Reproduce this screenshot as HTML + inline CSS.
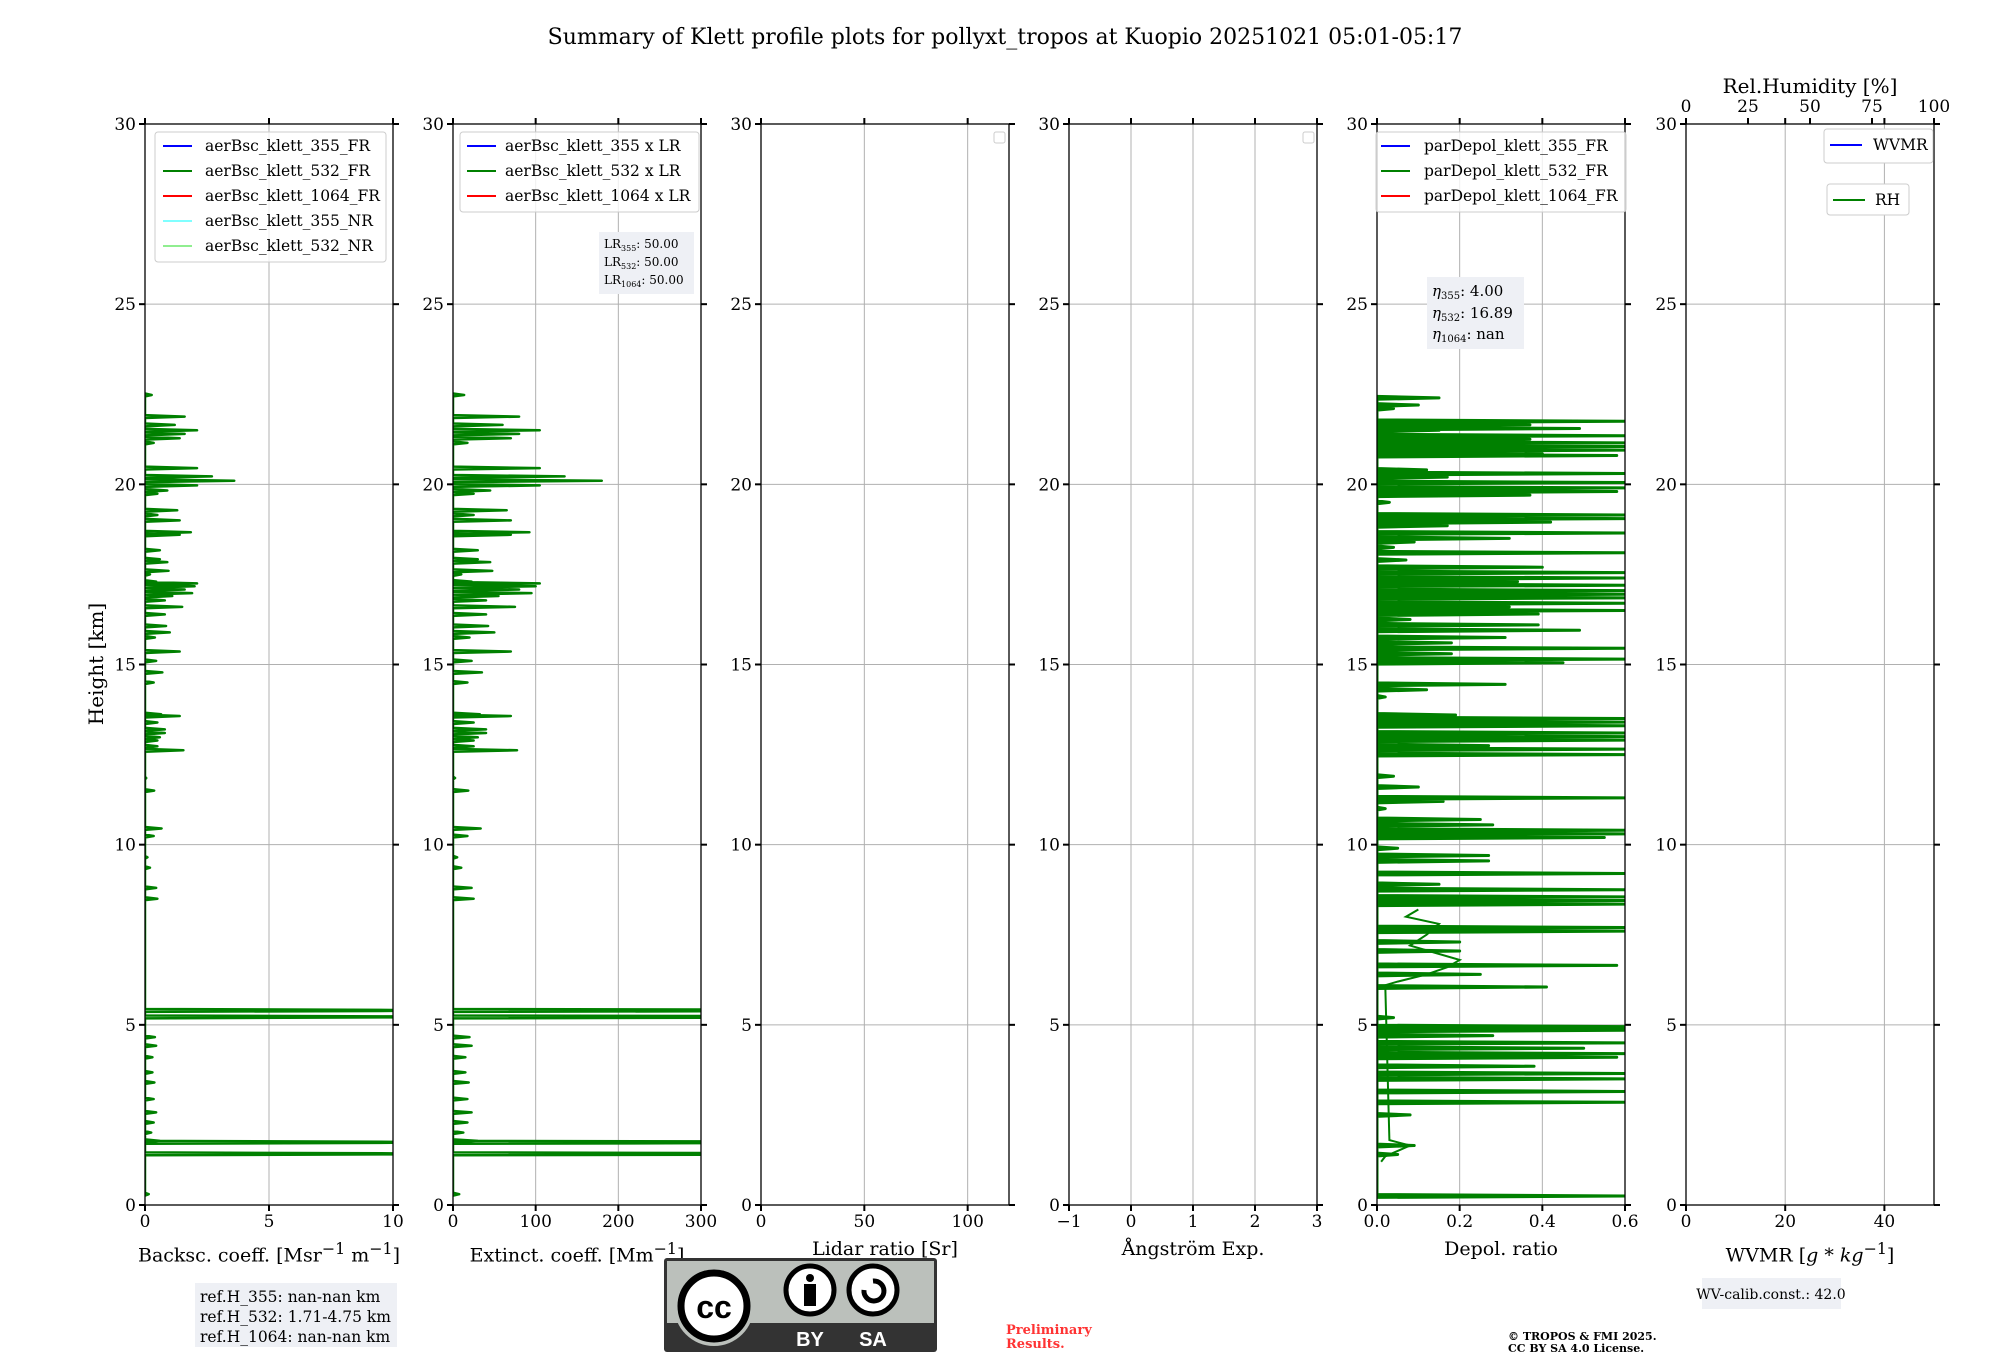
<!DOCTYPE html>
<html><head><meta charset="utf-8"><style>
html,body{margin:0;padding:0;background:#fff;}
svg{display:block;font-family:"DejaVu Serif","Liberation Serif",serif;}
</style></head><body>
<svg id="fig" width="2000" height="1360" viewBox="0 0 2000 1360" xmlns="http://www.w3.org/2000/svg">
<text x="1005" y="44" font-size="22" text-anchor="middle">Summary of Klett profile plots for pollyxt_tropos at Kuopio 20251021 05:01-05:17</text>
<text x="0" y="0" font-size="20" text-anchor="middle" transform="translate(103,664) rotate(-90)">Height [km]</text>
<g id="panels"></g>
<g>
<rect x="155" y="132" width="231" height="130" rx="3" fill="#fff" fill-opacity="0.8" stroke="#ccc"/>
<line x1="163" y1="146" x2="192" y2="146" stroke="#0000ff" stroke-width="2"/><text x="205" y="151" font-size="15.5">aerBsc_klett_355_FR</text>
<line x1="163" y1="171" x2="192" y2="171" stroke="#008000" stroke-width="2"/><text x="205" y="176" font-size="15.5">aerBsc_klett_532_FR</text>
<line x1="163" y1="196" x2="192" y2="196" stroke="#ff0000" stroke-width="2"/><text x="205" y="201" font-size="15.5">aerBsc_klett_1064_FR</text>
<line x1="163" y1="221" x2="192" y2="221" stroke="#80ffff" stroke-width="2"/><text x="205" y="226" font-size="15.5">aerBsc_klett_355_NR</text>
<line x1="163" y1="246" x2="192" y2="246" stroke="#90ee90" stroke-width="2"/><text x="205" y="251" font-size="15.5">aerBsc_klett_532_NR</text>
</g>
<g>
<rect x="460" y="132" width="239" height="80" rx="3" fill="#fff" fill-opacity="0.8" stroke="#ccc"/>
<line x1="467" y1="146" x2="496" y2="146" stroke="#0000ff" stroke-width="2"/><text x="505" y="151" font-size="15.5">aerBsc_klett_355 x LR</text>
<line x1="467" y1="171" x2="496" y2="171" stroke="#008000" stroke-width="2"/><text x="505" y="176" font-size="15.5">aerBsc_klett_532 x LR</text>
<line x1="467" y1="196" x2="496" y2="196" stroke="#ff0000" stroke-width="2"/><text x="505" y="201" font-size="15.5">aerBsc_klett_1064 x LR</text>
</g>
<g>
<rect x="599" y="232" width="95" height="62" fill="#eef0f5"/>
<text x="604" y="248" font-size="12">LR<tspan font-size="8" dy="3">355</tspan><tspan dy="-3">: 50.00</tspan></text>
<text x="604" y="266" font-size="12">LR<tspan font-size="8" dy="3">532</tspan><tspan dy="-3">: 50.00</tspan></text>
<text x="604" y="284" font-size="12">LR<tspan font-size="8" dy="3">1064</tspan><tspan dy="-3">: 50.00</tspan></text>
</g>
<rect x="994" y="132" width="11" height="11" rx="2" fill="#fff" stroke="#ccc"/>
<rect x="1303" y="132" width="11" height="11" rx="2" fill="#fff" stroke="#ccc"/>
<g>
<rect x="1376" y="132" width="250" height="80" rx="3" fill="#fff" fill-opacity="0.8" stroke="#ccc"/>
<line x1="1381" y1="146" x2="1410" y2="146" stroke="#0000ff" stroke-width="2"/><text x="1424" y="151" font-size="15.5">parDepol_klett_355_FR</text>
<line x1="1381" y1="171" x2="1410" y2="171" stroke="#008000" stroke-width="2"/><text x="1424" y="176" font-size="15.5">parDepol_klett_532_FR</text>
<line x1="1381" y1="196" x2="1410" y2="196" stroke="#ff0000" stroke-width="2"/><text x="1424" y="201" font-size="15.5">parDepol_klett_1064_FR</text>
</g>
<g>
<rect x="1427" y="277" width="97" height="72" fill="#eef0f5"/>
<text x="1432" y="296" font-size="15"><tspan font-style="italic">η</tspan><tspan font-size="10" dy="3">355</tspan><tspan dy="-3">: 4.00</tspan></text>
<text x="1432" y="318" font-size="15"><tspan font-style="italic">η</tspan><tspan font-size="10" dy="3">532</tspan><tspan dy="-3">: 16.89</tspan></text>
<text x="1432" y="339" font-size="15"><tspan font-style="italic">η</tspan><tspan font-size="10" dy="3">1064</tspan><tspan dy="-3">: nan</tspan></text>
</g>
<g>
<rect x="1824" y="129" width="109" height="34" rx="3" fill="#fff" stroke="#ccc"/>
<line x1="1830" y1="145" x2="1862" y2="145" stroke="#0000ff" stroke-width="2"/><text x="1873" y="150" font-size="15.5">WVMR</text>
</g>
<g>
<rect x="1827" y="184" width="82" height="31" rx="3" fill="#fff" stroke="#ccc"/>
<line x1="1833" y1="200" x2="1865" y2="200" stroke="#008000" stroke-width="2"/><text x="1875" y="205" font-size="15.5">RH</text>
</g>
<g>
<rect x="195" y="1283" width="202" height="64" fill="#eef0f5"/>
<text x="200" y="1302" font-size="15.5">ref.H_355: nan-nan km</text>
<text x="200" y="1322" font-size="15.5">ref.H_532: 1.71-4.75 km</text>
<text x="200" y="1342" font-size="15.5">ref.H_1064: nan-nan km</text>
</g>
<g>
<rect x="1702" y="1278" width="139" height="31" fill="#eef0f5"/>
<text x="1771" y="1299" font-size="14" text-anchor="middle">WV-calib.const.: 42.0</text>
</g>
<g>
<rect x="664" y="1258" width="273" height="94" rx="3" fill="#333"/>
<rect x="667" y="1261" width="267" height="62" fill="#bbc0bb"/>
<circle cx="714" cy="1306" r="40" fill="#bbc0bb"/>
<circle cx="714" cy="1306" r="33" fill="#fff" stroke="#000" stroke-width="7"/>
<text x="714" y="1318" font-size="32" font-weight="bold" text-anchor="middle" font-family="Liberation Sans, sans-serif">cc</text>
<circle cx="810" cy="1290" r="24" fill="#fff" stroke="#000" stroke-width="5"/>
<circle cx="810" cy="1278" r="4" fill="#000"/>
<rect x="804" y="1284" width="12" height="22" fill="#000"/>
<circle cx="873" cy="1290" r="24" fill="#fff" stroke="#000" stroke-width="5"/>
<path d="M 864 1290 A 10 10 0 1 0 873 1281" fill="none" stroke="#000" stroke-width="5"/>
<text x="810" y="1346" font-size="20" font-weight="bold" fill="#fff" text-anchor="middle" font-family="Liberation Sans, sans-serif">BY</text>
<text x="873" y="1346" font-size="20" font-weight="bold" fill="#fff" text-anchor="middle" font-family="Liberation Sans, sans-serif">SA</text>
</g>
<text x="1006" y="1334" font-size="13" font-weight="bold" fill="#ff3333"><tspan x="1006">Preliminary</tspan><tspan x="1006" dy="14">Results.</tspan></text>
<text x="1508" y="1340" font-size="11" font-weight="bold"><tspan x="1508">© TROPOS &amp; FMI 2025.</tspan><tspan x="1508" dy="12">CC BY SA 4.0 License.</tspan></text>
</svg>
<script>
// ---- data ----
const heightTicks = [0, 5, 10, 15, 20, 25, 30];
const bscHeights = [22.48,21.88,21.65,21.5,21.4,21.28,21.15,20.45,20.22,20.1,19.97,19.83,19.74,19.28,19.15,19.0,18.67,18.6,18.17,17.92,17.84,17.6,17.5,17.3,17.25,17.17,17.08,16.98,16.9,16.78,16.6,16.39,16.07,15.89,15.75,15.36,15.1,14.78,14.5,13.62,13.57,13.39,13.2,13.1,12.98,12.89,12.73,12.62,11.85,11.5,10.45,10.24,9.65,9.36,8.8,8.5,5.4,5.22,4.66,4.42,4.1,3.68,3.4,2.94,2.57,2.29,2.01,1.78,1.74,1.42,0.3];
const bscValues = [0.27,1.6,1.2,2.1,1.6,1.4,0.35,2.1,2.7,3.6,2.1,0.9,0.5,1.3,0.5,1.4,1.85,1.4,0.6,0.6,0.9,0.95,0.2,0.45,2.1,2.0,1.6,1.9,1.1,0.8,1.5,0.8,0.85,1.0,0.4,1.4,0.45,0.7,0.35,0.65,1.4,0.5,0.8,0.8,0.6,0.5,0.5,1.55,0.05,0.37,0.67,0.35,0.1,0.2,0.45,0.5,15,15,0.4,0.45,0.3,0.3,0.38,0.35,0.45,0.35,0.25,0.6,15,15,0.15];
const extValues = [13.5,80,60,105,80,70,17.5,105,135,180,105,45,25,65,25,70,92.5,70,30,30,45,47.5,10,22.5,105,100,80,95,55,40,75,40,42.5,50,20,70,22.5,35,17.5,32.5,70,25,40,40,30,25,25,77.5,2.5,18.5,33.5,17.5,5,10,22.5,25,750,750,20,22.5,15,15,19,17.5,22.5,17.5,12.5,30,750,750,7.5];
const depolHeights = [22.4,22.2,22.1,21.75,21.65,21.55,21.5,21.35,21.25,21.15,21.05,20.95,20.85,20.8,20.4,20.3,20.2,20.05,19.9,19.8,19.7,19.5,19.15,19.05,18.95,18.85,18.65,18.5,18.4,18.25,18.1,17.9,17.7,17.55,17.4,17.3,17.2,17.05,16.95,16.85,16.7,16.6,16.5,16.4,16.25,16.1,15.95,15.75,15.6,15.45,15.3,15.15,15.05,14.45,14.3,14.1,13.6,13.5,13.4,13.3,13.1,13.0,12.9,12.75,12.65,12.5,11.9,11.6,11.3,11.2,11.0,10.7,10.55,10.4,10.3,10.2,9.9,9.7,9.55,9.2,8.9,8.75,8.55,8.45,8.35,7.7,7.6,7.3,7.05,6.65,6.4,6.05,5.2,4.95,4.9,4.85,4.7,4.5,4.35,4.2,4.1,3.85,3.65,3.5,3.15,2.85,2.5,1.65,1.4,0.25];
const depolValues = [0.15,0.1,0.04,0.6,0.37,0.49,0.15,0.6,0.37,0.6,0.6,0.6,0.4,0.58,0.12,0.6,0.17,0.6,0.6,0.58,0.37,0.03,0.6,0.6,0.42,0.17,0.6,0.32,0.09,0.04,0.6,0.07,0.4,0.6,0.6,0.34,0.6,0.6,0.6,0.6,0.6,0.32,0.6,0.39,0.08,0.39,0.49,0.31,0.18,0.6,0.18,0.6,0.45,0.31,0.12,0.02,0.19,0.6,0.6,0.6,0.6,0.6,0.6,0.27,0.6,0.6,0.04,0.1,0.6,0.16,0.02,0.25,0.28,0.6,0.6,0.55,0.05,0.27,0.27,0.6,0.15,0.6,0.6,0.6,0.6,0.6,0.6,0.2,0.2,0.58,0.25,0.41,0.04,0.6,0.6,0.6,0.28,0.6,0.5,0.6,0.58,0.38,0.6,0.6,0.6,0.6,0.08,0.09,0.05,0.6];
const depolWiggleH = [8.2,8.0,7.8,7.5,7.2,7.0,6.8,6.6,6.4,6.2,6.1,1.8,1.65,1.5,1.35,1.2];
const depolWiggleV = [0.1,0.07,0.15,0.12,0.08,0.14,0.2,0.17,0.12,0.05,0.02,0.03,0.08,0.05,0.02,0.01];

// ---- layout ----
const NS = 'http://www.w3.org/2000/svg';
const TOP = 124, BOT = 1205;
const panelsDef = [
  {key:'bsc', left:145, xmin:0, xmax:10, ticks:[0,5,10], labels:['0','5','10'], title:'Backsc. coeff. [Msr<sup>−1</sup> m<sup>−1</sup>]'},
  {key:'ext', left:453, xmin:0, xmax:300, ticks:[0,100,200,300], labels:['0','100','200','300'], title:'Extinct. coeff. [Mm<sup>−1</sup>]'},
  {key:'lr', left:761, xmin:0, xmax:120, ticks:[0,50,100], labels:['0','50','100'], title:'Lidar ratio [Sr]'},
  {key:'ang', left:1069, xmin:-1, xmax:3, ticks:[-1,0,1,2,3], labels:['−1','0','1','2','3'], title:'Ångström Exp.'},
  {key:'depol', left:1377, xmin:0, xmax:0.6, ticks:[0,0.2,0.4,0.6], labels:['0.0','0.2','0.4','0.6'], title:'Depol. ratio'},
  {key:'wv', left:1686, xmin:0, xmax:50, ticks:[0,20,40], labels:['0','20','40'], title:'WVMR [<i>g</i> * <i>kg</i><sup>−1</sup>]'}
];
const W = 248;
const rhTicks = [0,25,50,75,100];
const yScale = h => BOT - (h/30)*(BOT-TOP);
const g0 = document.getElementById('panels');
function el(tag, attrs, parent){const e=document.createElementNS(NS,tag);for(const k in attrs)e.setAttribute(k,attrs[k]);(parent||g0).appendChild(e);return e;}

panelsDef.forEach((p,i)=>{
  const xs = v => p.left + (v-p.xmin)/(p.xmax-p.xmin)*W;
  const g = el('g',{});
  
  
  const cp = el('clipPath',{id:'clip'+i},g); el('rect',{x:p.left,y:TOP,width:W,height:BOT-TOP},cp);
  heightTicks.forEach(h=>{ const ln=el('line',{x1:p.left,x2:p.left+W,y1:yScale(h),y2:yScale(h),stroke:'#b0b0b0','stroke-width':1},g);
      });
  p.ticks.forEach(t=>{ const ln=el('line',{x1:xs(t),x2:xs(t),y1:TOP,y2:BOT,stroke:'#b0b0b0','stroke-width':1},g);
      });
  const dg = el('g',{'clip-path':'url(#clip'+i+')'},g);
  function spikes(H,V,cls,sw){
    let pts=[];
    H.forEach((h,j)=>{ pts.push(xs(0)+','+yScale(h+0.04)); pts.push(xs(V[j])+','+yScale(h)); pts.push(xs(0)+','+yScale(h-0.04)); });
    const pl = el('polyline',{points:pts.join(' '),fill:'none',stroke:'#008000','stroke-width':sw,'stroke-linejoin':'round'},dg);
    
    
  }
  if(p.key==='bsc') spikes(bscHeights,bscValues,'bsc-532-profile',2.5);
  if(p.key==='ext') spikes(bscHeights,extValues,'ext-532-profile',2.5);
  if(p.key==='depol'){
    spikes(depolHeights,depolValues,'depol-532-profile',3);
    const pts = depolWiggleH.map((h,j)=>xs(depolWiggleV[j])+','+yScale(h)).join(' ');
    const w = el('polyline',{points:pts,fill:'none',stroke:'#008000','stroke-width':2},dg);
    
    
  }
  const fr = el('rect',{x:p.left,y:TOP,width:W,height:BOT-TOP,fill:'none',stroke:'#000','stroke-width':1.3},g);
   
  heightTicks.forEach(h=>{
    el('line',{x1:p.left-6,x2:p.left,y1:yScale(h),y2:yScale(h),stroke:'#000','stroke-width':2},g);
    el('line',{x1:p.left+W,x2:p.left+W+6,y1:yScale(h),y2:yScale(h),stroke:'#000','stroke-width':2},g);
    const t=el('text',{x:p.left-9,y:yScale(h)+6,'font-size':17,'text-anchor':'end'},g); t.textContent=h;
     
  });
  p.ticks.forEach((tv,j)=>{
    el('line',{x1:xs(tv),x2:xs(tv),y1:BOT,y2:BOT+6,stroke:'#000','stroke-width':2},g);
    el('line',{x1:xs(tv),x2:xs(tv),y1:TOP-6,y2:TOP,stroke:'#000','stroke-width':2},g);
    const t=el('text',{x:xs(tv),y:BOT+22,'font-size':17,'text-anchor':'middle'},g); t.textContent=p.labels[j];
     
  });
  const fo = el('foreignObject',{x:p.left-60,y:BOT+29,width:W+120,height:40},g);
  fo.innerHTML = '<div xmlns="http://www.w3.org/1999/xhtml" style="font-family:\'DejaVu Serif\',\'Liberation Serif\',serif;font-size:19px;text-align:center;line-height:30px;white-space:nowrap">'+p.title+'</div>';
  
  
  if(p.key==='wv'){
    rhTicks.forEach(r=>{
      const x = p.left + r/100*W;
      el('line',{x1:x,x2:x,y1:TOP-6,y2:TOP,stroke:'#000','stroke-width':2},g);
      const t=el('text',{x:x,y:TOP-12,'font-size':17,'text-anchor':'middle'},g); t.textContent=r;
       
    });
    const t=el('text',{x:p.left+W/2,y:93,'font-size':20,'text-anchor':'middle'},g); t.textContent='Rel.Humidity [%]';
     
  }
});
</script>
</body></html>
